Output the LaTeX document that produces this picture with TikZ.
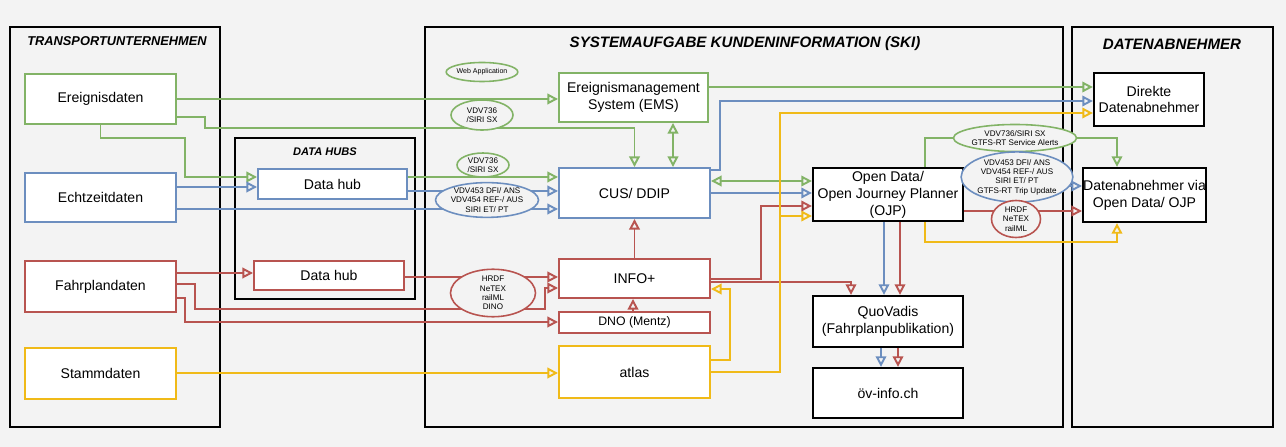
\documentclass[tikz,border=0pt]{standalone}
\usepackage{fontspec}
\setmainfont{Liberation Sans}
\usetikzlibrary{arrows.meta,shapes.geometric}
\definecolor{skiGreen}{RGB}{130,179,102}
\definecolor{skiBlue}{RGB}{108,142,191}
\definecolor{skiRed}{RGB}{184,84,80}
\definecolor{skiGold}{RGB}{240,186,24}
\definecolor{paperGray}{RGB}{243,243,243}
\tikzset{
  box/.style={draw, fill=white, line width=1.1pt, align=center, inner sep=1pt,
              font=\fontsize{8}{9.6}\selectfont},
  greenbox/.style={box, draw=skiGreen},
  bluebox/.style={box, draw=skiBlue},
  redbox/.style={box, draw=skiRed},
  goldbox/.style={box, draw=skiGold},
  blackbox/.style={box, draw=black, line width=1.3pt},
  frame/.style={draw=black, line width=1.3pt},
  title/.style={font=\bfseries\itshape\fontsize{8.6}{10}\selectfont},
  tag/.style={ellipse, draw, fill=paperGray, line width=0.9pt, inner sep=0pt, align=center,
              font=\fontsize{4.6}{5.3}\selectfont},
  tip/.style={-{Triangle[open, length=6pt, width=6pt]}},
  bothtips/.style={{Triangle[open, length=6pt, width=6pt]}-{Triangle[open, length=6pt, width=6pt]}},
  garrow/.style={tip, line width=1.1pt, draw=skiGreen},
  barrow/.style={tip, line width=1.1pt, draw=skiBlue},
  rarrow/.style={tip, line width=1.1pt, draw=skiRed},
  yarrow/.style={tip, line width=1.1pt, draw=skiGold}
}

\begin{document}
\begin{tikzpicture}[x=0.2mm, y=-0.2mm]
\fill[paperGray] (0,0) rectangle (1286,447);
\useasboundingbox (0,0) rectangle (1286,447);

% frames
\draw[frame] (10,27) rectangle (220,427);
\draw[frame] (425,27) rectangle (1063,427);
\draw[frame] (1072,27) rectangle (1273,427);
\draw[frame] (235,138) rectangle (415,299);
\node[title, font=\bfseries\itshape\fontsize{7.3}{9}\selectfont] (tutitle) at (117,41) {TRANSPORTUNTERNEHMEN};
\node[title] (skititle) at (745,44) {SYSTEMAUFGABE KUNDENINFORMATION (SKI)};
\node[title] (dabtitle) at (1172,44) {DATENABNEHMER};
\node[title, font=\bfseries\itshape\fontsize{6.3}{8}\selectfont] (hubtitle) at (325,152) {DATA HUBS};

% sources
\node[greenbox, minimum width=30.2mm, minimum height=10mm] (ereig) at (100.5,99) {Ereignisdaten};
\node[bluebox, minimum width=30.2mm, minimum height=9.8mm] (echtzeit) at (100.5,197.5) {Echtzeitdaten};
\node[redbox, minimum width=30.2mm, minimum height=10.2mm] (fahrplan) at (100.5,286.5) {Fahrplandaten};
\node[goldbox, minimum width=30.2mm, minimum height=10.2mm] (stamm) at (100.5,373.5) {Stammdaten};

% data hubs
\node[bluebox, minimum width=29.8mm, minimum height=6mm] (hubA) at (332.5,184) {Data hub};
\node[redbox, minimum width=30mm, minimum height=5.8mm] (hubB) at (329,275.5) {Data hub};

% SKI systems
\node[greenbox, minimum width=29.8mm, minimum height=9.8mm] (ems) at (633.5,97.5) {Ereignismanagement\\System (EMS)};
\node[bluebox, minimum width=30.2mm, minimum height=10mm] (cus) at (634.5,193) {CUS/ DDIP};
\node[redbox, minimum width=30.2mm, minimum height=7.8mm] (info) at (634.5,278.5) {INFO+};
\node[redbox, minimum width=30.2mm, minimum height=4.2mm, font=\fontsize{7}{8}\selectfont] (dno) at (634.5,322.5) {DNO (Mentz)};
\node[goldbox, minimum width=30.2mm, minimum height=10.4mm] (atlas) at (634.5,372) {atlas};
\node[blackbox, minimum width=30mm, minimum height=10.6mm] (ojp) at (888,194.5) {Open Data/\\Open Journey Planner\\(OJP)};
\node[blackbox, minimum width=30mm, minimum height=10.2mm] (quo) at (888,321.5) {QuoVadis\\(Fahrplanpublikation)};
\node[blackbox, minimum width=30mm, minimum height=10mm] (oev) at (888,393) {öv-info.ch};

% consumers
\node[blackbox, minimum width=22mm, minimum height=10.6mm] (direkt) at (1149,99.5) {Direkte\\Datenabnehmer};
\node[blackbox, minimum width=22.2mm, minimum height=10.8mm, inner sep=0pt] (via) at (1144.5,195) {Datenabnehmer via\\Open Data/ OJP};

% green
\draw[garrow] (ereig.east) -- (ems.west |- ereig.east);
\draw[garrow] (ereig.east |- 0,117) -| (205,128) -| (cus.north);
\draw[garrow] (ereig.south) |- (185,138) |- (hubA.west |- 0,177);
\draw[garrow] (hubA.east |- 0,177) -- (cus.west |- 0,177);
\draw[garrow, bothtips] (ems.south -| 673,0) -- (cus.north -| 673,0);
\draw[garrow] (ems.east |- 0,87) -- (direkt.west |- 0,87);
\draw[garrow, bothtips] (cus.east |- 0,181) -- (ojp.west |- 0,181);
\draw[garrow] (ojp.north -| 925,0) |- (1117,138) -- (via.north -| 1117,0);

% blue
\draw[barrow] (echtzeit.east |- 0,187) -- (hubA.west |- 0,187);
\draw[barrow] (echtzeit.east |- 0,209) -- (cus.west |- 0,209);
\draw[barrow] (hubA.east |- 0,191) -- (cus.west |- 0,191);
\draw[barrow] (cus.east |- 0,170) -- (720,170) |- (direkt.west |- 0,101);
\draw[barrow] (cus.east |- 0,193) -- (ojp.west |- 0,193);
\draw[barrow] (ojp.east |- 0,186) -- (via.west |- 0,186);
\draw[barrow] (ojp.south -| 884,0) -- (quo.north -| 884,0);
\draw[barrow] (quo.south -| 881,0) -- (oev.north -| 881,0);

% red
\draw[rarrow] (fahrplan.east |- 0,273) -- (hubB.west |- 0,273);
\draw[rarrow] (hubB.east |- 0,277) -- (info.west |- 0,277);
\draw[rarrow] (fahrplan.east |- 0,284) -| (195,309) -| (545,288) -- (info.west |- 0,288);
\draw[rarrow] (fahrplan.east |- 0,298) -| (185,322) -- (dno.west |- 0,322);
\draw[rarrow] (dno.north -| 633,0) -- (info.south -| 633,0);
\draw[rarrow] (info.north) -- (cus.south);
\draw[rarrow] (info.east |- 0,279) -| (761,206) -- (ojp.west |- 0,206);
\draw[rarrow] (info.east |- 0,282) -| (quo.north -| 851,0);
\draw[rarrow] (ojp.south -| 900,0) -- (quo.north -| 900,0);
\draw[rarrow] (quo.south -| 898,0) -- (oev.north -| 898,0);
\draw[rarrow] (ojp.east |- 0,211) -- (via.west |- 0,211);

% yellow
\coordinate (ybranch) at (780,216);
\draw[yarrow] (stamm.east |- 0,373) -- (atlas.west |- 0,373);
\draw[yarrow] (atlas.east |- 0,360) -| (730,289) -- (info.east |- 0,289);
\draw[yarrow] (atlas.east |- 0,372) -| (780,113) -- (direkt.west |- 0,113);
\draw[yarrow] (ybranch) -- (ojp.west |- ybranch);
\draw[yarrow] (ojp.south -| 925,0) |- (1117,242) -- (via.south -| 1117,0);

% formats
\node[tag, draw=skiGreen, minimum width=12.4mm, minimum height=3.8mm, font=\fontsize{4}{4.6}\selectfont] (webapp) at (482,72) {Web Application};
\node[tag, draw=skiGreen, minimum width=12.4mm, minimum height=6mm] (sxA) at (482,115) {VDV736\\/SIRI SX};
\node[tag, draw=skiGreen, minimum width=10.4mm, minimum height=4.8mm] (sxB) at (483,165) {VDV736\\/SIRI SX};
\node[tag, draw=skiBlue, minimum width=20.6mm, minimum height=5.6mm] (vdvL) at (487,200) {VDV453 DFI/ ANS\\VDV454 REF-/ AUS\\SIRI ET/ PT};
\node[tag, draw=skiRed, minimum width=17mm, minimum height=9.4mm] (hrdfL) at (493,293) {HRDF\\NeTEX\\railML\\DINO};
\node[tag, draw=skiGreen, minimum width=21.4mm, minimum height=5.4mm] (sxR) at (1015,138) {VDV736/SIRI SX\\GTFS-RT Service Alerts};
\node[tag, draw=skiBlue, minimum width=21mm, minimum height=9mm] (vdvR) at (1017,177) {VDV453 DFI/ ANS\\VDV454 REF-/ AUS\\SIRI ET/ PT\\GTFS-RT Trip Update};
\node[tag, draw=skiRed, minimum width=9.8mm, minimum height=7.4mm] (hrdfR) at (1016,219) {HRDF\\NeTEX\\railML};
\end{tikzpicture}
\end{document}
